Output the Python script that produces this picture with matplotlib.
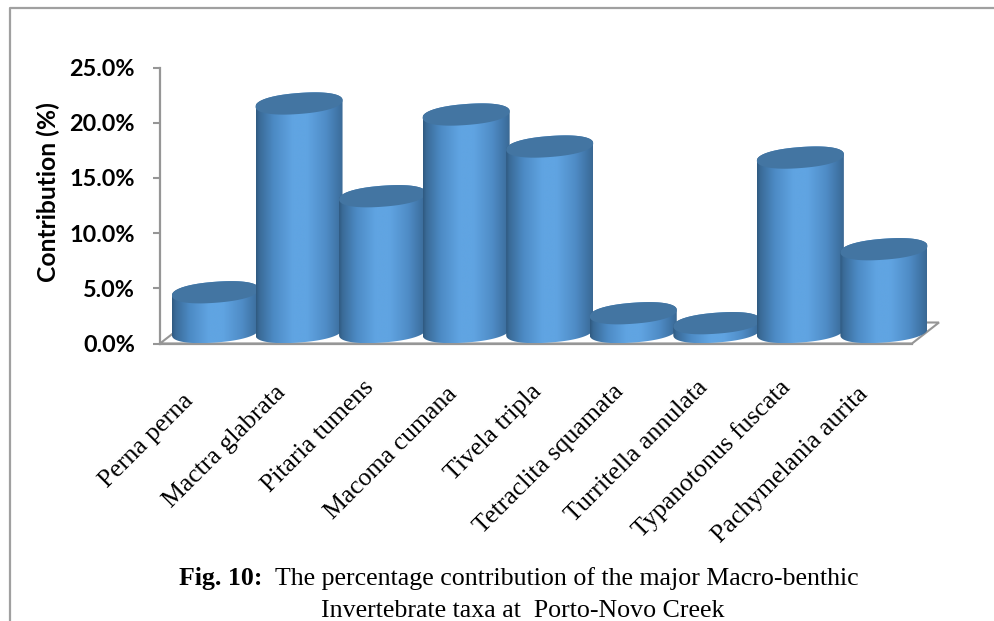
import numpy as np
import matplotlib
matplotlib.use("Agg")
import matplotlib.pyplot as plt
from matplotlib.lines import Line2D
from matplotlib.patches import PathPatch, Polygon
from matplotlib.path import Path
from matplotlib.ticker import FuncFormatter
from matplotlib.transforms import ScaledTranslation

taxa = ["Perna perna", "Mactra glabrata", "Pitaria tumens", "Macoma cumana", "Tivela tripla",
        "Tetraclita squamata", "Turritella annulata", "Typanotonus fuscata", "Pachymelania aurita"]
contribution = [3.6, 20.7, 12.3, 19.7, 16.8, 1.7, 0.8, 15.8, 7.5]
y_ticks = [0, 5, 10, 15, 20, 25]

W, H = 995, 621
GRAY = "#969696"
fig = plt.figure(figsize=(W / 100, H / 100), dpi=100, facecolor="white")
ax = fig.add_axes([160 / W, 1 - 343.5 / H, 752 / W, 276 / H])
ax.set_xlim(-0.5, 8.5)
ax.set_ylim(0, 25)
ax.patch.set_alpha(0)

px_x = 9 / 752            # data units per pixel, x
px_y = 25 / 276           # data units per pixel, y
half_w = 43.5 * px_x
dx = 13.7 * px_x          # 3D depth shift of the bars
base = 11.5 * px_y        # centre of the cylinder foot above the axis
b = 10.5 * px_y           # ellipse half height
k = 3.2 * px_y            # ellipse tilt
p = 0.9                   # slightly squared ellipse ends


def rim(angle):
    c, s = np.cos(angle), np.sin(angle)
    c = np.sign(c) * np.abs(c) ** p
    s = np.sign(s) * np.abs(s) ** p
    return c, s


# floor
floor = Polygon([(-0.5, 0), (8.5, 0), (8.5 + 27 * px_x, 21 * px_y), (-0.5 + 27 * px_x, 21 * px_y)],
                closed=True, fill=False, edgecolor=GRAY, linewidth=1.5, clip_on=False, zorder=1)
ax.add_patch(floor)

# horizontal shading of a cylinder
stops = [0, 0.04, 0.2, 0.42, 0.58, 0.8, 0.95, 1]
cols = ["#2f5a80", "#3a6b98", "#4c8ac4", "#60a4e2", "#60a4e2", "#4f8cc6", "#3e72a2", "#3a6893"]
rgb = np.array([matplotlib.colors.to_rgb(c) for c in cols])
xs = np.linspace(0, 1, 256)
grad = np.stack([np.interp(xs, stops, rgb[:, i]) for i in range(3)], axis=-1)[None, :, :]

t = np.linspace(0, 2 * np.pi, 181)
for i, v in enumerate(contribution):
    cx = i + dx
    c1, s1 = rim(np.linspace(np.pi, 2 * np.pi, 90))
    c2, s2 = rim(np.linspace(0, np.pi, 90))
    verts = np.column_stack([
        np.r_[cx + half_w * c1, cx + half_w * c2],
        np.r_[base + b * s1 + k * c1, base + v + b * s2 + k * c2],
    ])
    body = Path(np.vstack([verts, verts[0]]), closed=True)
    clip = PathPatch(body, transform=ax.transData, facecolor="none", edgecolor="none", clip_on=False)
    ax.add_patch(clip)
    im = ax.imshow(grad, extent=[cx - half_w, cx + half_w, 0, base + v + b + k], aspect="auto",
                   zorder=3 + i * 0.1, interpolation="bilinear")
    im.set_clip_box(fig.bbox)
    im.set_clip_path(clip)
    c3, s3 = rim(t)
    top = Polygon(np.column_stack([cx + half_w * c3, base + v + b * s3 + k * c3]),
                  closed=True, facecolor="#4375a2", edgecolor="none", clip_on=False,
                  zorder=3.05 + i * 0.1)
    ax.add_patch(top)

ax.set_xlim(-0.5, 8.5)
ax.set_ylim(0, 25)

for s in ("top", "right"):
    ax.spines[s].set_visible(False)
for s in ("left", "bottom"):
    ax.spines[s].set_color(GRAY)
    ax.spines[s].set_linewidth(1.6)

ax.set_yticks(y_ticks)
ax.yaxis.set_major_formatter(FuncFormatter(lambda v, _: f"{v:.1f}%"))
ax.tick_params(axis="y", length=5, width=1.5, color=GRAY, pad=13)
for lab in ax.get_yticklabels():
    lab.set_fontfamily("Lato")
    lab.set_fontweight("bold")
    lab.set_fontsize(16.8)

ax.set_xticks(range(len(taxa)))
ax.set_xticklabels(taxa, rotation=45, ha="right", va="top", rotation_mode="anchor",
                   fontfamily="Liberation Serif", fontsize=18.5)
ax.tick_params(axis="x", length=0, pad=27)
# pixel nudges of the label ends (right, down)
nudge_x = [-9, 0, 5, 5, 5, 4, 4, 3, -2]
nudge_y = [9, 0, -5, 2, -1, -1, -5, -5, 2]
for lab, nx, ny in zip(ax.get_xticklabels(), nudge_x, nudge_y):
    shift = ScaledTranslation((nx - 11) / 100, -ny / 100, fig.dpi_scale_trans)
    lab.set_transform(lab.get_transform() + shift)

fig.text(48 / W, 1 - 192 / H, "Contribution (%)", rotation=90, ha="center", va="center",
         fontfamily="Lato", fontweight="bold", fontsize=17.7)

# outer frame
fig.add_artist(Line2D([9.5 / W, 9.5 / W, 1], [0, 1 - 8 / H, 1 - 8 / H], color="#a0a0a0", linewidth=1.6))

# caption
fig.text(179 / W, 1 - 585 / H, "Fig. 10:", fontfamily="Liberation Serif", fontweight="bold",
         fontsize=18.6, ha="left", va="baseline")
fig.text(275 / W, 1 - 585 / H, "The percentage contribution of the major Macro-benthic",
         fontfamily="Liberation Serif", fontsize=18.6, ha="left", va="baseline")
fig.text(523 / W, 1 - 617 / H, "Invertebrate taxa at  Porto-Novo Creek",
         fontfamily="Liberation Serif", fontsize=18.6, ha="center", va="baseline")

fig.savefig("out.png", dpi=100, facecolor="white")
